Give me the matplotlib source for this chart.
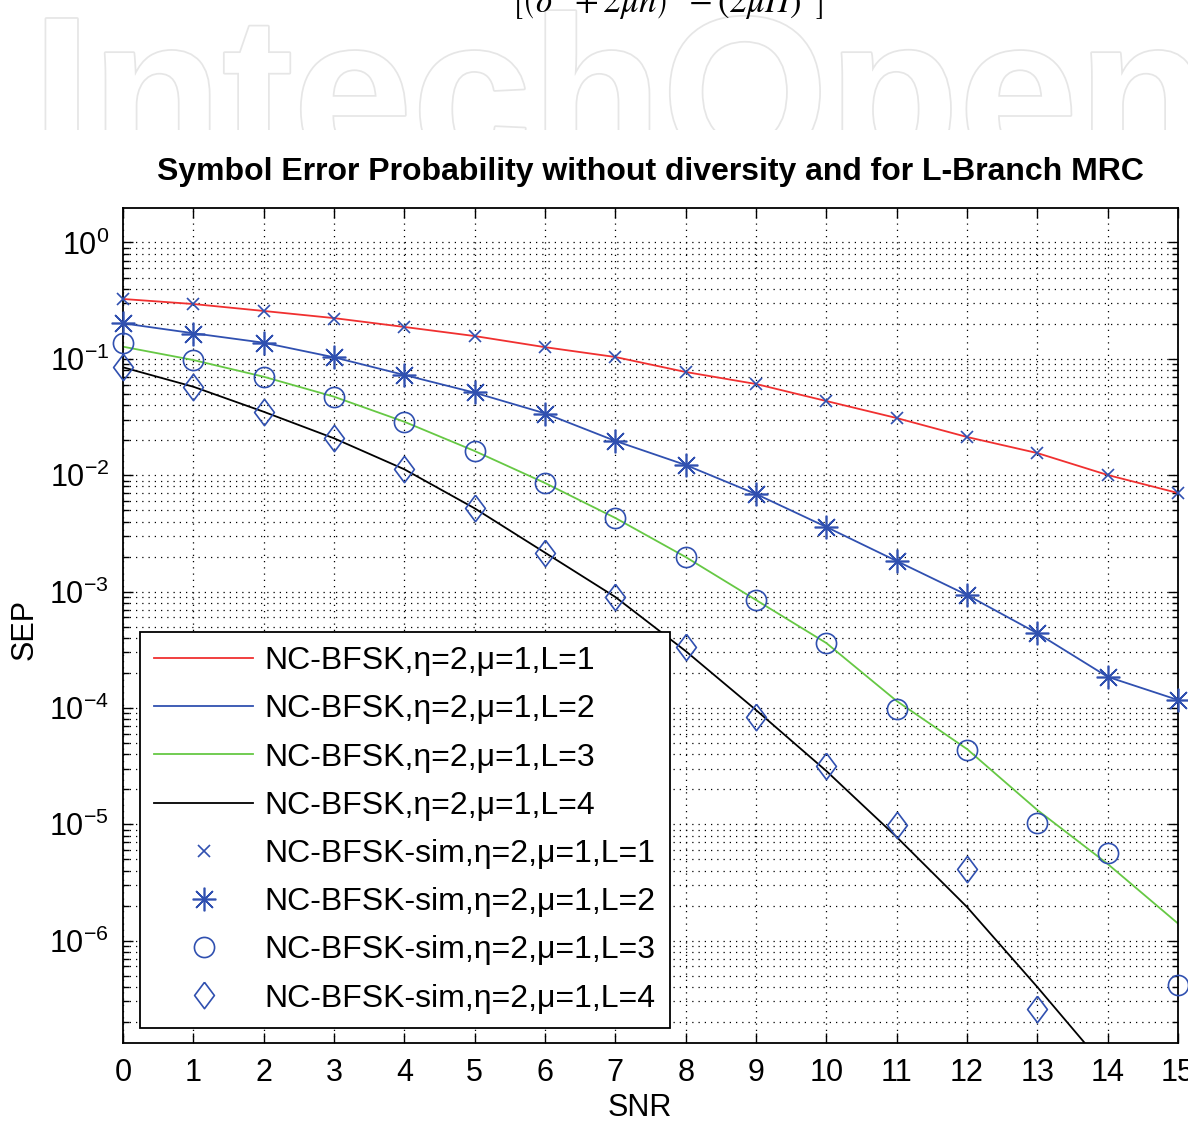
import numpy as np
import matplotlib
matplotlib.use("Agg")
import matplotlib.pyplot as plt
from matplotlib import patheffects
from matplotlib.ticker import LogLocator, NullFormatter

# SNR axis
snr = np.arange(0, 16)

# analytical SEP, NC-BFSK, eta=2, mu=1
sep_L1 = [0.327, 0.296, 0.258, 0.224, 0.188, 0.157, 0.126, 0.1037, 0.0771, 0.0608,
          0.0434, 0.0310, 0.0213, 0.0155, 0.01004, 0.00703]
sep_L2 = [0.202, 0.166, 0.1376, 0.1031, 0.0727, 0.0512, 0.0340, 0.0197, 0.01224, 0.00689,
          0.00359, 0.00183, 0.000934, 0.000438, 0.000185, 0.000117]
sep_L3 = [0.1272, 0.0977, 0.0702, 0.0473, 0.0288, 0.01614, 0.00857, 0.00429, 0.00198, 0.000846,
          0.000361, 0.0001147, 4.43e-5, 1.326e-5, 4.56e-6, 1.403e-6]
sep_L4 = [0.0846, 0.0576, 0.0351, 0.02076, 0.01124, 0.00519, 0.00216, 0.000898, 0.000308, 9.59e-5,
          2.87e-5, 7.77e-6, 1.945e-6, 3.99e-7, 7.72e-8, 1.44e-8]

# simulated SEP
sim_L1 = [0.325, 0.294, 0.260, 0.222, 0.189, 0.156, 0.127, 0.104, 0.0775, 0.0605,
          0.0432, 0.0312, 0.0211, 0.0154, 0.0101, 0.0070]
sim_L2 = [0.203, 0.165, 0.138, 0.1035, 0.0725, 0.0515, 0.0338, 0.0198, 0.0122, 0.0069,
          0.00362, 0.00182, 0.00093, 0.00044, 0.000185, 0.000117]
sim_L3 = [0.1368, 0.0977, 0.0702, 0.0473, 0.0288, 0.01614, 0.00857, 0.00429, 0.00198, 0.000840,
          0.000361, 9.78e-5, 4.35e-5, 1.025e-5, 5.66e-6, 4.15e-7]
sim_L4 = [0.0850, 0.0574, 0.0350, 0.0208, 0.0112, 0.0052, 0.00216, 0.000890, 0.000334, 8.35e-5,
          3.17e-5, 9.85e-6, 4.12e-6, 2.58e-7, np.nan, np.nan]

theory_labels = ["NC-BFSK,\u03b7=2,\u03bc=1,L=%d" % k for k in range(1, 5)]
sim_labels = ["NC-BFSK-sim,\u03b7=2,\u03bc=1,L=%d" % k for k in range(1, 5)]

line_colors = ["#f03030", "#3050b0", "#66c844", "#000000"]
sim_color = "#3050b0"
diamond = [(0, 1), (0.75, 0), (0, -1), (-0.75, 0), (0, 1)]
sim_markers = [("x", 9), ((8, 2, 0), 17), ("o", 14.5), (diamond, 19)]

plt.rcParams['font.family'] = ['Liberation Sans', 'DejaVu Sans']

fig = plt.figure(figsize=(11.88, 11.24), dpi=100)

# watermark band at the top of the page
wm = fig.add_axes([0, 1 - 130 / 1124, 1, 130 / 1124])
wm.axis("off")
wm.set_xlim(0, 1188)
wm.set_ylim(130, 0)
wm.text(32, 166, "IntechOpen", fontsize=154, fontweight="bold", color="white",
        va="baseline", clip_on=True,
        path_effects=[patheffects.withStroke(linewidth=2.5, foreground="#e6e6e6")])

# cut-off equation from the page above
fig.text(0.5615, 1 - 22 / 1124,
         r"$\left[\left(\delta^{2}+2\mu h\right)^{2}-\left(2\mu H\right)^{2}\right]$",
         fontsize=25, ha="center", va="bottom", math_fontfamily="stix")

ax = fig.add_axes([123 / 1188, 81 / 1124, 1055 / 1188, 835 / 1124])

handles = []
for vals, col, lab in zip([sep_L1, sep_L2, sep_L3, sep_L4], line_colors, theory_labels):
    h, = ax.semilogy(snr, vals, "-", color=col, lw=1.3, label=lab)
    handles.append(h)

for vals, (mk, ms), lab in zip([sim_L1, sim_L2, sim_L3, sim_L4], sim_markers, sim_labels):
    h, = ax.semilogy(snr, vals, linestyle="none", marker=mk, ms=ms, mfc="none",
                     mec=sim_color, mew=1.2, label=lab, clip_on=False, zorder=3)
    handles.append(h)

ax.set_xlim(0, 15)
ax.set_ylim(10 ** -6.88, 10 ** 0.2965)
ax.set_xticks(range(16))
ax.yaxis.set_major_locator(LogLocator(base=10, numticks=20))
ax.yaxis.set_minor_locator(LogLocator(base=10, subs=np.arange(2, 10), numticks=20))
ax.yaxis.set_minor_formatter(NullFormatter())

dots = (0, (1, 4))
ax.grid(True, which="major", axis="both", ls=dots, color="k", lw=0.9)
ax.grid(True, which="minor", axis="y", ls=dots, color="k", lw=0.9)

ax.tick_params(which="both", direction="in", top=True, right=True, labelsize=22, width=1)
ax.tick_params(which="major", length=7)
ax.tick_params(which="minor", length=4.5)
ax.tick_params(axis="x", pad=11)
ax.tick_params(axis="y", pad=10)
for sp in ax.spines.values():
    sp.set_linewidth(1.3)

ax.set_title("Symbol Error Probability without diversity and for L-Branch MRC",
             fontsize=23, fontweight="bold", pad=20)

ax.set_xlabel("SNR", fontsize=22)
ax.xaxis.set_label_coords(0.49, -0.078)
ax.xaxis.label.set_va("center")
ax.set_ylabel("SEP", fontsize=22)
ax.yaxis.set_label_coords(-0.093, 0.495)
ax.yaxis.label.set_va("center")

leg = ax.legend(handles=handles, loc="lower left", bbox_to_anchor=(0.0161, 0.018),
                borderaxespad=0, fontsize=23, handlelength=3.1, handletextpad=0.35,
                labelspacing=0.57, borderpad=0.45, fancybox=False, framealpha=1,
                edgecolor="k")
leg.get_frame().set_linewidth(1.3)

fig.savefig("out.png", dpi=100)
